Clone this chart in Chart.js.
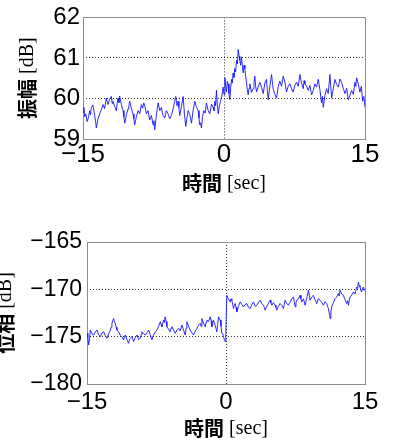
<!DOCTYPE html>
<html>
<head>
<meta charset="utf-8">
<script src="https://cdn.jsdelivr.net/npm/chart.js@4.4.0/dist/chart.umd.min.js"></script>
<style>
  body { margin: 0; background: #fff; }
  canvas { position: absolute; left: 0; }
</style>
</head>
<body>
<canvas id="amp" width="405" height="200" style="top:0px"></canvas>
<canvas id="phase" width="405" height="241" style="top:200px"></canvas>
<script>
var ampTime = [-15.00, -14.91, -14.82, -14.70, -14.57, -14.43, -14.29, -14.20, -14.11, -13.94, -13.76, -13.67, -13.58, -13.40, -13.23, -13.05,
  -12.87, -12.70, -12.52, -12.43, -12.34, -12.16, -11.98, -11.90, -11.81, -11.63, -11.45, -11.36, -11.27, -11.18, -11.10, -10.92,
  -10.74, -10.65, -10.56, -10.38, -10.21, -10.12, -10.03, -9.85, -9.68, -9.59, -9.50, -9.32, -9.14, -8.96, -8.79, -8.66,
  -8.54, -8.40, -8.26, -8.08, -7.90, -7.72, -7.55, -7.46, -7.37, -7.19, -7.01, -6.83, -6.66, -6.57, -6.48, -6.30,
  -6.13, -5.95, -5.77, -5.60, -5.42, -5.27, -5.13, -5.00, -4.88, -4.80, -4.71, -4.53, -4.35, -4.21, -4.07, -3.95,
  -3.82, -3.64, -3.46, -3.28, -3.11, -2.93, -2.75, -2.66, -2.58, -2.49, -2.40, -2.28, -2.15, -2.01, -1.87, -1.69,
  -1.51, -1.33, -1.16, -1.07, -0.98, -0.89, -0.80, -0.71, -0.62, -0.50, -0.37, -0.23, -0.09, 0.00, 0.09, 0.18,
  0.26, 0.35, 0.44, 0.53, 0.62, 0.71, 0.80, 0.88, 0.97, 1.06, 1.15, 1.24, 1.33, 1.42, 1.51, 1.60,
  1.68, 1.77, 1.86, 1.95, 2.04, 2.13, 2.22, 2.30, 2.39, 2.48, 2.57, 2.66, 2.75, 2.92, 3.10, 3.19,
  3.28, 3.37, 3.46, 3.63, 3.81, 3.99, 4.17, 4.35, 4.52, 4.61, 4.70, 4.88, 5.06, 5.15, 5.23, 5.41,
  5.59, 5.77, 5.94, 6.12, 6.30, 6.48, 6.65, 6.83, 7.01, 7.19, 7.36, 7.54, 7.72, 7.90, 8.07, 8.25,
  8.43, 8.52, 8.61, 8.79, 8.96, 9.14, 9.32, 9.50, 9.67, 9.85, 10.03, 10.20, 10.38, 10.47, 10.56, 10.74,
  10.91, 11.09, 11.27, 11.36, 11.45, 11.63, 11.80, 11.98, 12.16, 12.34, 12.51, 12.69, 12.87, 13.05, 13.22, 13.40,
  13.58, 13.76, 13.93, 14.02, 14.11, 14.29, 14.46, 14.61, 14.75, 14.88, 15.00];
var ampValues = [59.66, 59.78, 59.55, 59.62, 59.43, 59.52, 59.70, 59.60, 59.78, 59.84, 59.58, 59.45, 59.27, 59.50, 59.62, 59.72,
  59.85, 59.75, 60.01, 59.92, 59.85, 59.98, 60.05, 59.88, 59.93, 59.80, 59.70, 59.88, 60.01, 59.90, 60.06, 59.85,
  59.70, 59.55, 59.39, 59.60, 59.74, 59.82, 59.93, 59.75, 59.62, 59.50, 59.35, 59.55, 59.70, 59.62, 59.85, 59.76,
  59.89, 59.80, 59.62, 59.70, 59.47, 59.58, 59.35, 59.45, 59.23, 59.60, 59.89, 59.70, 59.78, 59.66, 59.58, 59.52,
  59.70, 59.62, 59.50, 59.58, 59.74, 59.90, 60.05, 59.82, 59.93, 59.78, 59.58, 59.80, 60.05, 59.62, 59.31, 59.50,
  59.70, 59.60, 59.39, 59.72, 59.93, 59.78, 59.70, 59.52, 59.35, 59.40, 59.27, 59.55, 59.70, 59.64, 59.89, 59.70,
  59.62, 59.86, 59.78, 59.70, 59.93, 59.82, 60.20, 59.85, 59.62, 59.80, 59.93, 60.05, 60.28, 60.10, 60.51, 60.30,
  60.16, 60.42, 60.36, 60.12, 59.97, 60.25, 60.47, 60.38, 60.63, 60.52, 60.74, 60.66, 60.94, 60.85, 61.21, 61.05,
  60.94, 60.82, 61.02, 60.80, 60.63, 60.82, 60.74, 60.55, 60.40, 60.22, 60.09, 60.25, 60.36, 60.15, 60.24, 60.40,
  60.55, 60.30, 60.16, 60.28, 60.40, 60.28, 60.12, 60.38, 60.47, 60.20, 59.97, 60.30, 60.59, 60.40, 60.24, 60.10,
  60.01, 60.30, 60.43, 60.30, 60.55, 60.40, 60.16, 60.30, 60.36, 60.24, 60.16, 60.32, 60.40, 60.30, 60.59, 60.38,
  60.24, 60.44, 60.36, 60.30, 60.20, 60.32, 60.09, 60.20, 60.36, 60.28, 60.47, 60.22, 59.89, 60.05, 59.78, 60.08,
  60.24, 60.12, 60.59, 60.30, 60.01, 60.25, 60.47, 60.35, 60.28, 60.48, 60.40, 60.25, 60.12, 60.25, 59.97, 60.08,
  60.20, 60.10, 60.40, 60.30, 60.51, 60.35, 60.16, 60.30, 59.93, 60.05, 59.78];

var phaseTime = [-15.00, -14.91, -14.82, -14.73, -14.64, -14.46, -14.28, -14.10, -13.92, -13.74, -13.56, -13.38, -13.20, -13.02, -12.84, -12.66,
  -12.48, -12.40, -12.31, -12.22, -12.13, -12.04, -11.95, -11.86, -11.77, -11.59, -11.41, -11.23, -11.05, -10.96, -10.87, -10.69,
  -10.51, -10.42, -10.33, -10.15, -9.97, -9.79, -9.61, -9.43, -9.25, -9.16, -9.07, -8.89, -8.71, -8.53, -8.35, -8.17,
  -7.99, -7.90, -7.81, -7.63, -7.45, -7.27, -7.09, -7.00, -6.92, -6.83, -6.74, -6.65, -6.56, -6.47, -6.38, -6.20,
  -6.02, -5.93, -5.84, -5.66, -5.48, -5.30, -5.12, -4.94, -4.76, -4.58, -4.40, -4.31, -4.22, -4.04, -3.86, -3.68,
  -3.50, -3.32, -3.14, -2.96, -2.78, -2.69, -2.60, -2.42, -2.24, -2.15, -2.06, -1.88, -1.70, -1.61, -1.53, -1.44,
  -1.35, -1.17, -0.99, -0.90, -0.81, -0.72, -0.63, -0.54, -0.45, -0.36, -0.27, -0.18, -0.09, -0.02, 0.09, 0.18,
  0.27, 0.36, 0.45, 0.54, 0.63, 0.72, 0.81, 0.90, 0.99, 1.08, 1.17, 1.35, 1.53, 1.71, 1.89, 2.07,
  2.25, 2.43, 2.61, 2.79, 2.97, 3.15, 3.33, 3.50, 3.68, 3.86, 4.04, 4.13, 4.22, 4.40, 4.58, 4.67,
  4.76, 4.85, 4.94, 5.12, 5.30, 5.39, 5.48, 5.66, 5.84, 6.02, 6.20, 6.29, 6.38, 6.56, 6.74, 6.83,
  6.92, 7.10, 7.28, 7.37, 7.46, 7.55, 7.64, 7.82, 8.00, 8.09, 8.18, 8.36, 8.54, 8.72, 8.90, 8.98,
  9.07, 9.25, 9.43, 9.61, 9.79, 9.97, 10.15, 10.33, 10.51, 10.69, 10.87, 10.96, 11.05, 11.14, 11.23, 11.32,
  11.41, 11.59, 11.77, 11.95, 12.13, 12.22, 12.31, 12.49, 12.67, 12.85, 13.03, 13.12, 13.21, 13.30, 13.39, 13.57,
  13.75, 13.93, 14.11, 14.20, 14.29, 14.37, 14.46, 14.55, 14.64, 14.73, 14.82, 14.91, 15.00];
var phaseValues = [-174.65, -175.10, -175.87, -175.20, -174.30, -174.70, -174.83, -174.50, -174.30, -174.80, -175.00, -174.60, -174.48, -174.90, -175.17, -174.70,
  -174.30, -174.00, -173.60, -173.30, -173.08, -173.40, -173.60, -174.00, -174.30, -174.50, -174.83, -175.00, -175.35, -175.00, -174.83, -175.30,
  -175.70, -175.30, -175.17, -175.00, -175.52, -175.10, -174.83, -175.30, -175.17, -174.80, -174.48, -174.70, -174.83, -174.60, -174.30, -174.80,
  -175.35, -175.00, -174.83, -174.50, -174.30, -173.90, -173.43, -173.70, -173.95, -173.60, -173.25, -173.50, -172.90, -173.40, -173.95, -174.20,
  -174.48, -174.10, -173.95, -174.30, -174.65, -174.30, -174.13, -174.40, -173.78, -174.30, -174.83, -174.10, -173.43, -173.90, -174.30, -174.60,
  -174.83, -174.40, -174.13, -173.80, -173.60, -173.90, -173.08, -173.60, -173.95, -173.50, -173.25, -173.40, -172.90, -173.30, -173.95, -173.60,
  -173.25, -173.80, -174.48, -173.70, -172.90, -173.10, -173.25, -173.90, -174.65, -174.70, -175.00, -175.30, -175.52, -174.65, -170.63, -170.90,
  -170.98, -171.20, -171.33, -171.00, -171.15, -171.60, -172.03, -171.70, -171.50, -171.90, -172.38, -171.80, -171.33, -171.60, -171.85, -171.60,
  -171.50, -171.90, -172.03, -171.60, -171.33, -171.80, -171.68, -171.40, -171.15, -171.50, -171.68, -171.90, -172.20, -171.80, -171.50, -171.30,
  -171.15, -171.40, -171.68, -171.40, -171.68, -171.90, -172.20, -171.80, -171.50, -171.70, -172.03, -171.60, -171.15, -171.50, -171.68, -171.50,
  -171.33, -171.00, -170.80, -171.30, -171.85, -171.40, -171.15, -171.00, -170.63, -171.00, -171.33, -171.00, -171.68, -170.90, -170.10, -170.60,
  -171.15, -170.80, -170.63, -171.10, -171.50, -171.00, -171.15, -171.40, -171.68, -171.30, -171.50, -171.80, -172.03, -172.50, -173.08, -172.40,
  -171.85, -171.40, -170.98, -170.80, -170.45, -170.70, -170.10, -170.50, -170.63, -171.10, -171.50, -171.20, -171.68, -171.20, -170.80, -170.60,
  -170.28, -170.50, -169.76, -169.90, -169.23, -169.60, -169.76, -170.10, -170.28, -169.90, -169.76, -170.10, -169.93];

var timeTicks = [-15, 0, 15];
var ampTicks = [59, 60, 61, 62];
var phaseTicks = [-180, -175, -170, -165];

var sansFont = "'Liberation Sans', Arial, sans-serif";

// grey box round the plot area
var frame = {
    id: 'frame',
    beforeDatasetsDraw: function(chart) {
        var a = chart.chartArea, ctx = chart.ctx;
        ctx.save();
        ctx.strokeStyle = '#8c8c8c';
        ctx.lineWidth = 1;
        ctx.strokeRect(Math.round(a.left) + 0.5, Math.round(a.top) + 0.5,
            Math.round(a.right - a.left), Math.round(a.bottom - a.top));
        ctx.restore();
    }
};

// axis labels: bold gothic kanji followed by a serif unit, like the MATLAB original
function drawMixed(ctx, kanji, unit, cx, cy, rot) {
    var fA = "bold 20px 'Noto Sans CJK JP'";
    var fB = "20px 'Liberation Serif'";
    ctx.save();
    ctx.translate(cx, cy);
    ctx.rotate(rot);
    ctx.textBaseline = 'middle';
    ctx.textAlign = 'left';
    ctx.fillStyle = '#000';
    ctx.font = fA;
    var wA = ctx.measureText(kanji).width;
    ctx.font = fB;
    var wB = ctx.measureText(unit).width;
    var x0 = -(wA + wB) / 2;
    ctx.font = fA;
    ctx.fillText(kanji, x0, 0);
    ctx.font = fB;
    ctx.fillText(unit, x0 + wA, 1);
    ctx.restore();
}

var axisLabels = {
    id: 'axisLabels',
    afterDraw: function(chart, args, opts) {
        var a = chart.chartArea;
        drawMixed(chart.ctx, opts.xKanji, opts.xUnit, (a.left + a.right) / 2, a.bottom + opts.xOffset, 0);
        drawMixed(chart.ctx, opts.yKanji, opts.yUnit, opts.yX, (a.top + a.bottom) / 2, -Math.PI / 2);
    }
};

function minus(v) {
    return String(v).replace('-', '\u2212');
}

function makeChart(id, time, values, yTicks, yKanji, box) {
    var ctx = document.getElementById(id).getContext('2d');
    var points = time.map(function(t, i) { return {x: t, y: values[i]}; });
    var yMin = yTicks[0], yMax = yTicks[yTicks.length - 1];

    function innerGrid(edges) {
        return function(c) {
            return edges.indexOf(c.tick.value) >= 0 ? 'rgba(0,0,0,0)' : '#333';
        };
    }

    return new Chart(ctx, {
        type: 'line',
        data: {
            datasets: [{
                data: points,
                borderColor: 'rgba(20, 20, 255, 0.9)',
                borderWidth: 1,
                pointRadius: 0,
                tension: 0
            }]
        },
        options: {
            responsive: false,
            animation: false,
            devicePixelRatio: 1,
            layout: {
                padding: {left: 0, top: box.top, right: 405 - box.right, bottom: 0}
            },
            plugins: {
                legend: {display: false},
                tooltip: {enabled: false},
                axisLabels: {
                    xKanji: '時間', xUnit: ' [sec]', xOffset: 44,
                    yKanji: yKanji, yUnit: ' [dB]', yX: box.yLabelX
                }
            },
            scales: {
                x: {
                    type: 'linear',
                    min: -15,
                    max: 15,
                    afterBuildTicks: function(s) { s.ticks = timeTicks.map(function(v) { return {value: v}; }); },
                    afterFit: function(s) { s.height = box.canvasH - box.bottom; },
                    grid: {color: innerGrid([-15, 15]), drawTicks: false, lineWidth: 1},
                    border: {display: false, dash: [1, 2]},
                    ticks: {
                        padding: box.xTickPad,
                        color: '#000',
                        maxRotation: 0,
                        font: {family: sansFont, size: box.xTickSize},
                        callback: function(v) { return minus(v); }
                    }
                },
                y: {
                    min: yMin,
                    max: yMax,
                    afterBuildTicks: function(s) { s.ticks = yTicks.map(function(v) { return {value: v}; }); },
                    afterFit: function(s) { s.width = box.left; },
                    grid: {color: innerGrid([yMin, yMax]), drawTicks: false, lineWidth: 1},
                    border: {display: false, dash: [1, 2]},
                    ticks: {
                        padding: box.yTickPad,
                        color: '#000',
                        font: {family: sansFont, size: box.yTickSize},
                        callback: function(v) { return minus(v); }
                    }
                }
            }
        },
        plugins: [frame, axisLabels]
    });
}

makeChart('amp', ampTime, ampValues, ampTicks, '振幅', {
    canvasH: 200, left: 83, top: 11, right: 365, bottom: 139,
    xTickPad: 0, xTickSize: 26, yTickPad: 3, yTickSize: 24, yLabelX: 27
});
makeChart('phase', phaseTime, phaseValues, phaseTicks, '位相', {
    canvasH: 241, left: 87, top: 42, right: 365, bottom: 184,
    xTickPad: 4, xTickSize: 24, yTickPad: 5, yTickSize: 23, yLabelX: 5
});
</script>
</body>
</html>
